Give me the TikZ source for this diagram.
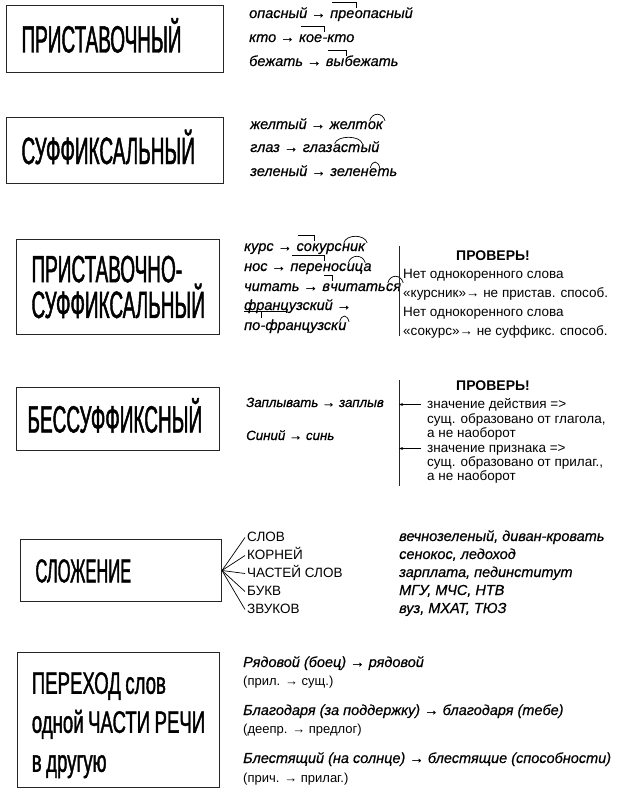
\documentclass[tikz,border=0pt]{standalone}
\usepackage{fontspec}
\setmainfont{Liberation Sans}
\newfontfamily\headfont[FakeStretch=0.5,FakeBold=1.2]{Liberation Sans}
\newfontfamily\mixfont[FakeStretch=0.6,FakeBold=1.2]{Liberation Sans}
\newfontfamily\exfont[FakeBold=0.6]{Liberation Sans}
\newfontfamily\notefont{Liberation Sans}
\usetikzlibrary{arrows.meta}

\begin{document}
\begin{tikzpicture}[x=1pt,y=1pt,
    box/.style={draw=black!85, line width=1pt, anchor=north west, inner xsep=15pt, inner ysep=0pt, align=left},
    head/.style={box, font=\headfont\fontsize{38}{33}\selectfont, text height=27pt, text depth=0pt},
    ex/.style={anchor=base west, inner sep=0pt, text height=10.5pt, text depth=3pt, font=\exfont\itshape\fontsize{14.5}{17}\selectfont},
    note/.style={anchor=base west, inner sep=0pt, text height=7pt, text depth=0pt, font=\notefont\fontsize{13.5}{16}\selectfont},
    small/.style={note, font=\notefont\fontsize{13}{15}\selectfont},
    chkhead/.style={anchor=base, inner sep=0pt, font=\notefont\bfseries\fontsize{14}{16}\selectfont},
    pfx/.style={line width=0.7pt},
    sfx/.style={line width=0.7pt},
    sep/.style={line width=0.9pt, black!85},
    chk/.style={line width=0.8pt, -{Stealth[length=4pt,width=3pt]}},
    fan/.style={line width=0.7pt}]
\useasboundingbox (0,0) rectangle (616,-797);

\node[head, text width=187pt, minimum height=67pt] (prist) at (6,-5) {ПРИСТАВОЧНЫЙ};
\node[ex] (op1) at (249,-18) {опасный →};
\node[ex] (op2) at ([xshift=4pt]op1.base east) {пре};
\node[ex] (op3) at (op2.base east) {опасный};
\node[ex] (kt1) at (249,-42) {кто →};
\node[ex] (kt2) at ([xshift=4pt]kt1.base east) {кое};
\node[ex] (kt3) at (kt2.base east) {-кто};
\node[ex] (bz1) at (249,-66) {бежать →};
\node[ex] (bz2) at ([xshift=4pt]bz1.base east) {вы};
\node[ex] (bz3) at (bz2.base east) {бежать};
\draw[pfx] ([shift={(2pt,5pt)}]op2.north west) -| ([shift={(2pt,-0.5pt)}]op2.north east);
\draw[pfx] ([shift={(2pt,5pt)}]kt2.north west) -| ([shift={(2pt,-0.5pt)}]kt2.north east);
\draw[pfx] ([shift={(2pt,5pt)}]bz2.north west) -| ([shift={(2pt,-0.5pt)}]bz2.north east);

\node[head, text width=187pt, minimum height=66pt] (suff) at (6,-117) {СУФФИКСАЛЬНЫЙ};
\node[ex] (zl1) at (250,-129) {желтый →};
\node[ex] (zl2) at ([xshift=4pt]zl1.base east) {желт};
\node[ex] (zl3) at (zl2.base east) {ок};
\node[ex] (gl1) at (250,-152) {глаз →};
\node[ex] (gl2) at ([xshift=4pt]gl1.base east) {глаз};
\node[ex] (gl3) at (gl2.base east) {аст};
\node[ex] (gl4) at (gl3.base east) {ый};
\node[ex] (zn1) at (250,-176) {зеленый →};
\node[ex] (zn2) at ([xshift=4pt]zn1.base east) {зелен};
\node[ex] (zn3) at (zn2.base east) {е};
\node[ex] (zn4) at (zn3.base east) {ть};
\draw[sfx] ([shift={(2pt,-2.5pt)}]zl3.north west) to[out=75, in=105, distance=9pt] ([shift={(2pt,-2.5pt)}]zl3.north east);
\draw[sfx] ([shift={(2pt,-2.5pt)}]gl3.north west) to[out=75, in=105, distance=9pt] ([shift={(2pt,-2.5pt)}]gl3.north east);
\draw[sfx] ([shift={(1.5pt,-2.5pt)}]zn3.north west) to[out=75, in=105, distance=8pt] ([shift={(2.5pt,-2.5pt)}]zn3.north east);

\node[box, font=\headfont\fontsize{38}{33}\selectfont, text width=173pt, minimum height=95pt] (pristsuff) at (16,-239) {ПРИСТАВОЧНО-\\СУФФИКСАЛЬНЫЙ};
\node[ex] (ku1) at (244,-251) {курс →};
\node[ex] (ku2) at ([xshift=4pt]ku1.base east) {со};
\node[ex] (ku3) at (ku2.base east) {курс};
\node[ex] (ku4) at (ku3.base east) {ник};
\node[ex] (no1) at (244,-271) {нос →};
\node[ex] (no2) at ([xshift=4pt]no1.base east) {пере};
\node[ex] (no3) at (no2.base east) {нос};
\node[ex] (no4) at (no3.base east) {иц};
\node[ex] (no5) at (no4.base east) {а};
\node[ex] (ch1) at (244,-291) {читать →};
\node[ex] (ch2) at ([xshift=4pt]ch1.base east) {в};
\node[ex] (ch3) at (ch2.base east) {читать};
\node[ex] (ch4) at (ch3.base east) {ся};
\node[ex] (fr1) at (244,-310) {французский →};
\node[ex] (fr2) at (244,-330) {по};
\node[ex] (fr3) at (fr2.base east) {-французск};
\node[ex] (fr4) at (fr3.base east) {и};
\draw[pfx] ([shift={(2pt,5pt)}]ku2.north west) -| ([shift={(2pt,-0.5pt)}]ku2.north east);
\draw[pfx] ([shift={(2pt,5pt)}]no2.north west) -| ([shift={(2pt,-0.5pt)}]no2.north east);
\draw[pfx] ([shift={(2pt,5pt)}]ch2.north west) -| ([shift={(2pt,-0.5pt)}]ch2.north east);
\draw[pfx] ([shift={(0pt,7.5pt)}]fr2.north west) -- ([shift={(43pt,7.5pt)}]fr2.north west);
\draw[pfx] ([shift={(1pt,7.5pt)}]fr2.north east) -- ([shift={(1pt,1.5pt)}]fr2.north east);
\draw[sfx] ([shift={(2pt,-2.5pt)}]ku4.north west) to[out=75, in=105, distance=9pt] ([shift={(2pt,-2.5pt)}]ku4.north east);
\draw[sfx] ([shift={(2pt,-2.5pt)}]no4.north west) to[out=75, in=105, distance=9pt] ([shift={(2pt,-2.5pt)}]no4.north east);
\draw[sfx] ([shift={(2pt,-2.5pt)}]ch4.north west) to[out=75, in=105, distance=9pt] ([shift={(2pt,-2.5pt)}]ch4.north east);
\draw[sfx] ([shift={(1.5pt,-2.5pt)}]fr4.north west) to[out=75, in=105, distance=8pt] ([shift={(2.5pt,-2.5pt)}]fr4.north east);
\coordinate (v3a) at (399,-246);
\coordinate (v3b) at (399,-336);
\draw[sep] (v3a) -- (v3b);
\node[chkhead] (chk3) at (493,-260) {ПРОВЕРЬ!};
\node[note] (nt1) at (403,-278) {Нет однокоренного слова};
\node[note] (nt2) at (403,-297) {«курсник»→ не пристав. способ.};
\node[note] (nt3) at (403,-316) {Нет однокоренного слова};
\node[note] (nt4) at (403,-335) {«сокурс»→ не суффикс. способ.};

\node[head, inner xsep=11pt, text width=181pt, minimum height=63pt] (bessuf) at (16,-387) {БЕССУФФИКСНЫЙ};
\node[ex, font=\exfont\itshape\fontsize{13.3}{16}\selectfont] (zp) at (246,-407) {Заплывать → заплыв};
\node[ex, font=\exfont\itshape\fontsize{13.3}{16}\selectfont] (sn) at (246,-440) {Синий → синь};
\coordinate (v4a) at (399,-380);
\coordinate (v4b) at (399,-486);
\draw[sep] (v4a) -- (v4b);
\node[chkhead] (chk4) at (493,-390) {ПРОВЕРЬ!};
\node[note] (d1) at (427,-408) {значение действия =>};
\node[note] (d2) at (427,-423) {сущ. образовано от глагола,};
\node[note] (d3) at (427,-437) {а не наоборот};
\node[note] (p1) at (427,-452) {значение признака =>};
\node[note] (p2) at (427,-466) {сущ. образовано от прилаг.,};
\node[note] (p3) at (427,-480) {а не наоборот};
\draw[chk] ([xshift=-6pt]d1.west) -- (d1.west -| v4a);
\draw[chk] ([xshift=-6pt]p1.west) -- (p1.west -| v4a);

\node[box, font=\headfont\fontsize{33}{33}\selectfont, text height=23.6pt, text depth=0pt, text width=171pt, minimum height=62pt] (slozh) at (20,-539) {СЛОЖЕНИЕ};
\node[note] (sv1) at (247,-541) {СЛОВ};
\node[note] (sv2) at (247,-559) {КОРНЕЙ};
\node[note] (sv3) at (247,-577) {ЧАСТЕЙ СЛОВ};
\node[note] (sv4) at (247,-595) {БУКВ};
\node[note] (sv5) at (247,-613) {ЗВУКОВ};
\draw[fan] (slozh.east) -- ([xshift=-2pt]sv1.west);
\draw[fan] (slozh.east) -- ([xshift=-2pt]sv2.west);
\draw[fan] (slozh.east) -- ([xshift=-2pt]sv3.west);
\draw[fan] (slozh.east) -- ([xshift=-2pt]sv4.west);
\draw[fan] (slozh.east) -- ([xshift=-2pt]sv5.west);
\node[ex] (sl1) at (399,-541) {вечнозеленый, диван-кровать};
\node[ex] (sl2) at (399,-559) {сенокос, ледоход};
\node[ex] (sl3) at (399,-577) {зарплата, пединститут};
\node[ex] (sl4) at (399,-595) {МГУ, МЧС, НТВ};
\node[ex] (sl5) at (399,-613) {вуз, МХАТ, ТЮЗ};

\node[box, font=\mixfont\fontsize{31}{39}\selectfont, inner xsep=14pt, minimum width=202pt, minimum height=135pt] (perehod) at (17,-652) {\rule{0pt}{32pt}ПЕРЕХОД\hspace{4.5pt}слов\\одной\hspace{4.5pt}ЧАСТИ\hspace{4.5pt}РЕЧИ\\в\hspace{4.5pt}другую};
\node[ex] (ry1) at (243,-667) {Рядовой (боец) → рядовой};
\node[small] (ry2) at (243,-685) {(прил. → сущ.)};
\node[ex] (bl1) at (243,-715) {Благодаря (за поддержку) → благодаря (тебе)};
\node[small] (bl2) at (243,-733) {(деепр. → предлог)};
\node[ex] (bs1) at (243,-763) {Блестящий (на солнце) → блестящие (способности)};
\node[small] (bs2) at (243,-782) {(прич. → прилаг.)};
\end{tikzpicture}
\end{document}
